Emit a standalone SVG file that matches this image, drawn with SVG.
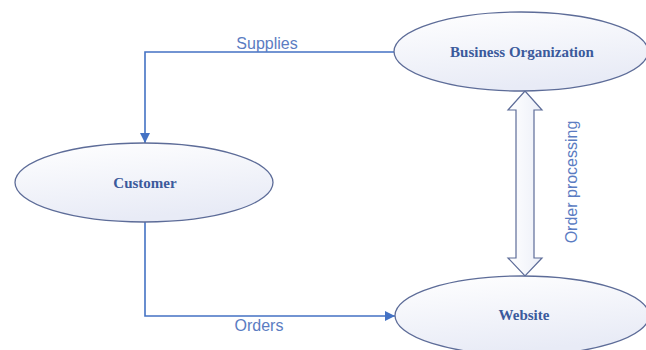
<svg xmlns="http://www.w3.org/2000/svg" width="646" height="350" viewBox="0 0 646 350">
<defs>
<linearGradient id="fillGrad" x1="0" y1="0" x2="0.3" y2="1">
<stop offset="0" stop-color="#ffffff"/>
<stop offset="1" stop-color="#e8ebf6"/>
</linearGradient>
<linearGradient id="arrowGrad" x1="0" y1="0" x2="1" y2="0">
<stop offset="0" stop-color="#ffffff"/>
<stop offset="1" stop-color="#eceff8"/>
</linearGradient>
<marker id="arrow" viewBox="0 0 10 10" refX="10" refY="5" markerWidth="10" markerHeight="10" markerUnits="userSpaceOnUse" orient="auto">
<path d="M0,0 L10,5 L0,10 Z" fill="#4472C4"/>
</marker>
<style>
.node ellipse { fill: url(#fillGrad); stroke: #5d6c98; stroke-width: 1.3; }
.node text { font-family: "Liberation Serif", "Times New Roman", serif; font-weight: bold; font-size: 15px; fill: #3b5a9c; text-anchor: middle; }
.conn { fill: none; stroke: #4472C4; stroke-width: 1.6; }
.label { font-family: "Liberation Sans", Arial, sans-serif; font-size: 16px; fill: #5b7cc2; text-anchor: middle; }
.dbl { fill: url(#arrowGrad); stroke: #5d6c98; stroke-width: 1.2; stroke-linejoin: miter; }
</style>
</defs>
<rect width="646" height="350" fill="#ffffff"/>
<g id="connectors">
<path class="conn" d="M395,52 L145,52 L145,143" marker-end="url(#arrow)"/>
<text class="label" x="267" y="49">Supplies</text>
<path class="conn" d="M145,222 L145,316 L395,316" marker-end="url(#arrow)"/>
<text class="label" x="259" y="331">Orders</text>
<path class="dbl" d="M525,91 L542,110 L534,110 L534,258 L542,258 L525,276 L508,258 L516,258 L516,110 L508,110 Z"/>
<text class="label" font-size="18" transform="translate(577,182) rotate(-90)">Order processing</text>
</g>
<g id="business-organization" class="node">
<ellipse cx="521" cy="51.5" rx="127" ry="39.5"/>
<text x="522" y="57">Business Organization</text>
</g>
<g id="customer" class="node">
<ellipse cx="144" cy="182.5" rx="129" ry="39.5"/>
<text x="145" y="188">Customer</text>
</g>
<g id="website" class="node">
<ellipse cx="522" cy="315.5" rx="127" ry="39.5"/>
<text x="524" y="320">Website</text>
</g>
</svg>
